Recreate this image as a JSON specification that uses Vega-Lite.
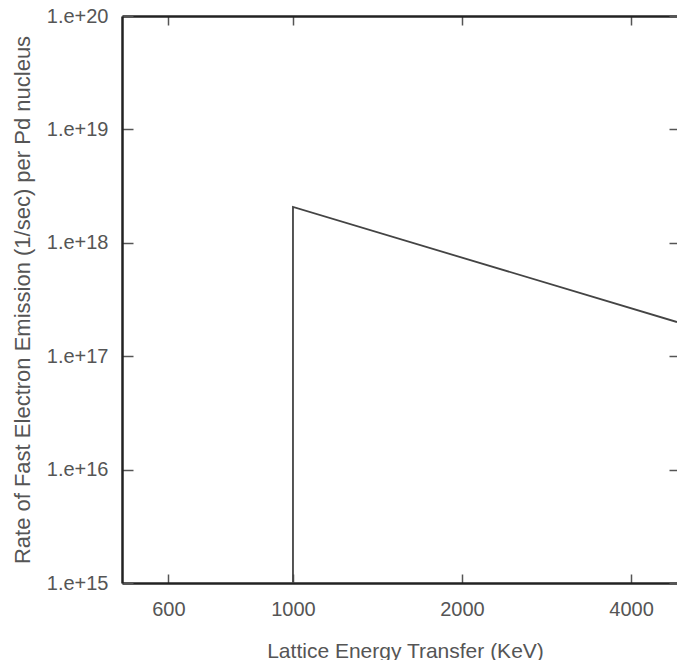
{
  "$schema": "https://vega.github.io/schema/vega-lite/v6.json",
  "autosize": {"type": "none"},
  "padding": {"left": 122, "top": 16, "right": 0, "bottom": 77},
  "width": 555,
  "height": 567,
  "background": "white",
  "config": {
    "view": {"stroke": null},
    "axis": {
      "labelFont": "Liberation Sans",
      "titleFont": "Liberation Sans",
      "labelFontSize": 20,
      "titleFontSize": 21,
      "titleFontWeight": "normal",
      "labelColor": "#555555",
      "titleColor": "#555555",
      "domainColor": "#222222",
      "domainWidth": 2.5,
      "tickColor": "#555555",
      "tickWidth": 1.5,
      "grid": false
    }
  },
  "data": {
    "values": [
      {"step": 1, "energy": 1000, "rate": 1e15},
      {"step": 2, "energy": 1000, "rate": 2.07e18},
      {"step": 3, "energy": 4830, "rate": 2.0e17}
    ]
  },
  "layer": [
    {
      "mark": {"type": "line", "color": "#444444", "strokeWidth": 1.8, "clip": true},
      "encoding": {
        "x": {
          "field": "energy", "type": "quantitative",
          "scale": {"type": "log", "domain": [496, 4830], "nice": false},
          "axis": {
            "orient": "bottom",
            "title": "Lattice Energy Transfer (KeV)",
            "values": [600, 1000, 2000, 4000],
            "format": "d",
            "tickSize": -9,
            "labelPadding": 25,
            "titleX": 283,
            "titleY": 74,
            "titleBaseline": "alphabetic"
          }
        },
        "y": {
          "field": "rate", "type": "quantitative",
          "scale": {"type": "log", "domain": [1e15, 1e20], "nice": false},
          "axis": {
            "orient": "left",
            "title": "Rate of Fast Electron Emission (1/sec) per Pd nucleus",
            "titleFontSize": 22,
            "values": [1e15, 1e16, 1e17, 1e18, 1e19, 1e20],
            "labelExpr": "'1.e+' + round(log(datum.value)/LN10)",
            "tickSize": -11,
            "labelPadding": 25,
            "titleX": -100,
            "titleBaseline": "middle"
          }
        },
        "order": {"field": "step", "type": "quantitative"}
      }
    },
    {
      "mark": {"type": "line", "strokeOpacity": 0},
      "encoding": {
        "x": {
          "field": "energy", "type": "quantitative",
          "axis": {
            "orient": "top", "title": null, "labels": false,
            "values": [600, 1000, 2000, 4000], "tickSize": -9
          }
        },
        "y": {
          "field": "rate", "type": "quantitative",
          "axis": {
            "orient": "right", "title": null, "labels": false, "domain": false,
            "values": [1e15, 1e16, 1e17, 1e18, 1e19, 1e20], "tickSize": -8
          }
        },
        "order": {"field": "step", "type": "quantitative"}
      }
    }
  ],
  "resolve": {"axis": {"x": "independent", "y": "independent"}}
}
